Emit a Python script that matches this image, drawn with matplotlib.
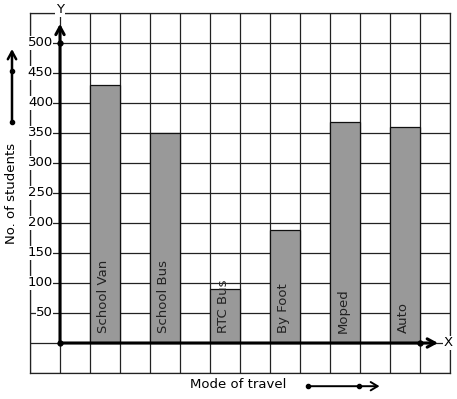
import matplotlib
matplotlib.use("Agg")
import matplotlib.pyplot as plt

categories = ["School Van", "School Bus", "RTC Bus", "By Foot", "Moped", "Auto"]
students = [430, 350, 90, 188, 368, 360]
ytick_vals = [50, 100, 150, 200, 250, 300, 350, 400, 450, 500]

fig = plt.figure(figsize=(4.57, 3.99), dpi=100)
W, H = 457, 399
ax = fig.add_axes([30 / W, (H - 373) / H, 420 / W, 360 / H])
ax.set_xlim(-1, 13)
ax.set_ylim(-50, 550)

ax.set_xticks(range(-1, 14))
ax.set_yticks(range(-50, 551, 50))
ax.tick_params(length=0, labelbottom=False, labelleft=False)
ax.grid(True, color="#222222", lw=0.9)
ax.set_axisbelow(True)
for s in ax.spines.values():
    s.set_color("#222222")
    s.set_linewidth(0.9)

xs = [1.5 + 2 * i for i in range(len(categories))]
ax.bar(xs, students, width=1.0, color="#999999", edgecolor="#111111", lw=0.9, zorder=3)
for x, c in zip(xs, categories):
    ax.text(x - 0.05, 17, c, rotation=90, ha="center", va="bottom", fontsize=9.5,
            color="#222222", zorder=4)

# axes arrows
ax.annotate("", xy=(0, 532), xytext=(0, 0),
            arrowprops=dict(arrowstyle="->,head_length=0.55,head_width=0.3", lw=2.2,
                            color="black", shrinkA=0, shrinkB=0), zorder=5,
            annotation_clip=False)
ax.annotate("", xy=(12.6, 0), xytext=(0, 0),
            arrowprops=dict(arrowstyle="->,head_length=0.55,head_width=0.3", lw=2.2,
                            color="black", shrinkA=0, shrinkB=0), zorder=5,
            annotation_clip=False)
ax.plot([0, 0, 12], [0, 500, 0], "o", color="black", ms=3.5, zorder=6, clip_on=False)

ax.text(0, 555, "Y", ha="center", va="center", fontsize=9.5,
        bbox=dict(facecolor="white", edgecolor="none", pad=0.5), zorder=6, clip_on=False)
ax.text(12.93, 0, "X", ha="center", va="center", fontsize=9.5,
        bbox=dict(facecolor="white", edgecolor="none", pad=0.5), zorder=6, clip_on=False)

for v in ytick_vals:
    ax.text(-0.23, v, str(v), ha="right", va="center", fontsize=9.5,
            bbox=dict(facecolor="white", edgecolor="none", pad=0.3), zorder=6)

# y label with arrow
ax.text(-1.6, 250, "No. of students", rotation=90, ha="center", va="center", fontsize=9.5,
        clip_on=False)
ax.annotate("", xy=(-1.6, 490), xytext=(-1.6, 369),
            arrowprops=dict(arrowstyle="->,head_length=0.55,head_width=0.3", lw=1.8,
                            color="black", shrinkA=0, shrinkB=0), annotation_clip=False)
ax.plot([-1.6, -1.6], [369, 454], "o", color="black", ms=3, clip_on=False)

# x label with arrow
ax.text(5.93, -70, "Mode of travel", ha="center", va="center", fontsize=9.5, clip_on=False)
ax.annotate("", xy=(10.65, -72), xytext=(8.27, -72),
            arrowprops=dict(arrowstyle="->,head_length=0.5,head_width=0.3", lw=1.4,
                            color="black", shrinkA=0, shrinkB=0), annotation_clip=False)
ax.plot([8.27, 9.97], [-72, -72], "o", color="black", ms=3, clip_on=False)

fig.savefig("out.png", dpi=100)
